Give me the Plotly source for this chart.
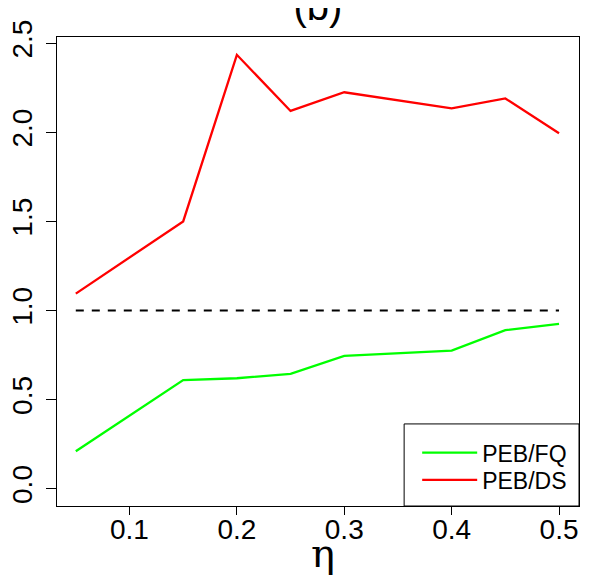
import plotly.graph_objects as go

# eta values and the two efficiency ratios
eta = [0.05, 0.15, 0.2, 0.25, 0.3, 0.4, 0.45, 0.5]
peb_fq = [0.21, 0.61, 0.62, 0.645, 0.745, 0.775, 0.89, 0.925]
peb_ds = [1.095, 1.50, 2.435, 2.12, 2.225, 2.135, 2.19, 1.995]

# reference line at ratio 1
ref_x = [0.05, 0.5]
ref_y = [1.0, 1.0]

x_ticks = [0.1, 0.2, 0.3, 0.4, 0.5]
x_labels = ["0.1", "0.2", "0.3", "0.4", "0.5"]
y_ticks = [0.0, 0.5, 1.0, 1.5, 2.0, 2.5]
y_labels = ["0.0", "0.5", "1.0", "1.5", "2.0", "2.5"]

FONT = "Liberation Sans, Arial, sans-serif"

# the page puts the figure 8px in from the top left, so the figure is
# 8px smaller than the window and the margins are 8px smaller too
W, H = 590, 573

fig = go.Figure()
fig.add_trace(
    go.Scatter(
        x=ref_x, y=ref_y, mode="lines", showlegend=False,
        line={"color": "black", "width": 2, "dash": "8px,8px"},
    )
)
fig.add_trace(
    go.Scatter(
        x=eta, y=peb_fq, mode="lines", name="PEB/FQ", legend="legend",
        line={"color": "#00FF00", "width": 2.3},
    )
)
fig.add_trace(
    go.Scatter(
        x=eta, y=peb_ds, mode="lines", name="PEB/DS", legend="legend2",
        line={"color": "#FF0000", "width": 2.3},
    )
)

# legend box (R style, bottom right corner of the plot box)
fig.add_shape(
    type="rect", xref="paper", yref="paper",
    x0=0.665, x1=1.0, y0=0.0, y1=0.175,
    line={"color": "black", "width": 1}, fillcolor="rgba(0,0,0,0)",
)

# x axis label, big serif eta under the tick labels
fig.add_annotation(
    text="η", xref="paper", yref="paper",
    x=0.5096, y=-0.1004, xanchor="center", yanchor="middle",
    showarrow=False,
    font={"size": 40, "family": "DejaVu Serif, Liberation Serif, serif", "color": "black"},
)

legend_style = {
    "xref": "paper", "yref": "paper",
    "xanchor": "left", "yanchor": "middle",
    "bgcolor": "rgba(0,0,0,0)",
    "borderwidth": 0,
    "font": {"size": 23, "color": "black"},
    "itemwidth": 55,
}

fig.update_layout(
    width=W,
    height=H,
    margin={"l": 49, "r": 19, "t": 29, "b": 75, "autoexpand": False},
    paper_bgcolor="white",
    plot_bgcolor="white",
    font={"family": FONT, "color": "black"},
    title={
        "text": "(b)",
        "font": {"size": 40, "color": "black"},
        "x": 0.5, "xref": "paper", "xanchor": "center",
        "y": 0.979, "yref": "container", "yanchor": "bottom",
    },
    xaxis={
        "range": [0.0325, 0.5186],
        "automargin": False,
        "tickvals": x_ticks,
        "ticktext": x_labels,
        "ticks": "outside",
        "ticklen": 8,
        "tickcolor": "black",
        "tickfont": {"size": 28, "color": "black"},
        "ticklabelstandoff": -10,
        "showline": True,
        "mirror": True,
        "linecolor": "black",
        "linewidth": 1,
        "showgrid": False,
        "zeroline": False,
    },
    yaxis={
        "range": [-0.097, 2.535],
        "automargin": False,
        "tickvals": y_ticks,
        "ticktext": y_labels,
        "tickangle": -90,
        "ticks": "outside",
        "ticklen": 10,
        "tickcolor": "black",
        "tickfont": {"size": 28, "color": "black"},
        "ticklabelstandoff": 3,
        "showline": True,
        "mirror": True,
        "linecolor": "black",
        "linewidth": 1,
        "showgrid": False,
        "zeroline": False,
    },
    legend={**legend_style, "x": 0.69, "y": 0.1136},
    legend2={**legend_style, "x": 0.69, "y": 0.0554},
    showlegend=True,
)

fig.write_html("out.html")
